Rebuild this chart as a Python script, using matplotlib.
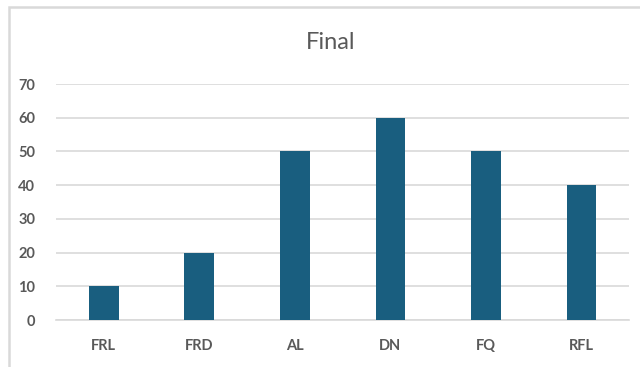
import matplotlib
matplotlib.use("Agg")
import matplotlib.pyplot as plt
from matplotlib.patches import Rectangle

categories = ["FRL", "FRD", "AL", "DN", "FQ", "RFL"]
values = [10, 20, 50, 60, 50, 40]
yticks = [0, 10, 20, 30, 40, 50, 60, 70]
title = "Final"

plt.rcParams['font.family'] = ['Lato', 'DejaVu Sans']

fig = plt.figure(figsize=(6.4, 3.67), dpi=100)
ax = fig.add_axes([0.0875, 0.128, 0.8955, 0.643])

x = range(len(categories))
ax.bar(x, values, width=0.31, color="#195E7F", zorder=3)
ax.set_xlim(-0.5, len(categories) - 0.5)
ax.set_ylim(0, 70)
ax.set_yticks(yticks)
ax.set_xticks(list(x))
ax.set_xticklabels(categories)
ax.grid(axis="y", color="#d9d9d9", lw=1.2, zorder=0)
for s in ["top", "right", "left"]:
    ax.spines[s].set_visible(False)
ax.spines["bottom"].set_color("#d9d9d9")
ax.spines["bottom"].set_linewidth(1.2)
ax.tick_params(length=0, colors="#595959", labelsize=10.5)
ax.tick_params(axis="y", pad=15)
ax.tick_params(axis="x", pad=14)
for lab in ax.get_xticklabels() + ax.get_yticklabels():
    lab.set_fontweight("bold")

fig.text(0.516, 0.885, title, ha="center", va="center", fontsize=17, color="#595959")

border = Rectangle((8.5 / 640, -0.1), 1.2, 1.1 - 7.5 / 367, transform=fig.transFigure,
                   fill=False, edgecolor="#d9d9d9", lw=1.8, clip_on=False)
fig.patches.append(border)

fig.savefig("out.png", dpi=100)
